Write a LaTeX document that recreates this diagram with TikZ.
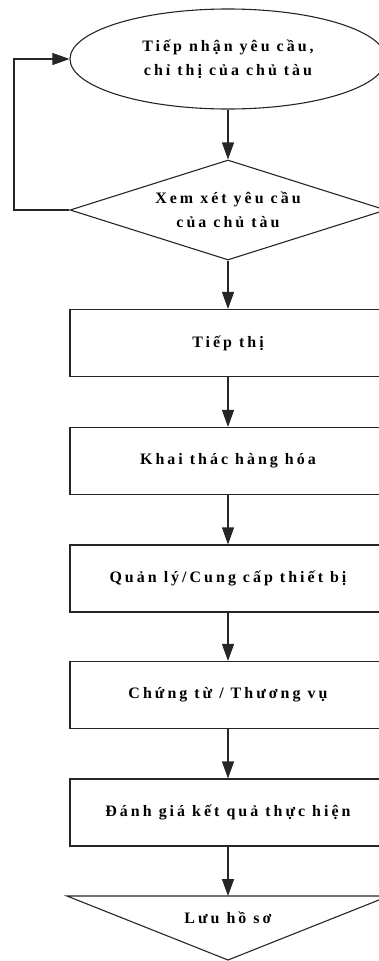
\documentclass[tikz,border=0pt]{standalone}
\usepackage{fontspec}
\setmainfont{Liberation Serif}[LetterSpace=19]
\usetikzlibrary{shapes.geometric,arrows.meta}
\begin{document}
\begin{tikzpicture}[x=1bp,y=-1bp,
  every node/.style={font=\fontsize{16}{24}\selectfont\bfseries, align=center, inner sep=0pt},
  line/.style={draw=black!85, line width=1.1bp},
  arr/.style={line, -{Triangle[length=17bp,width=12bp]}},
  boxnode/.style={line, rectangle, minimum width=316bp, minimum height=67bp},
]
\useasboundingbox (0,0) rectangle (378,961);
\node[line, ellipse, minimum width=316bp, minimum height=100bp] (start) at (228,59) {Tiếp nhận yêu cầu,\\chỉ thị của chủ tàu};
\node[line, diamond, aspect=3.16, minimum width=316bp, minimum height=100bp] (check) at (228,210) {Xem xét yêu cầu\\của chủ tàu};
\node[boxnode] (b1) at (228,343) {Tiếp thị};
\node[boxnode] (b2) at (228,461) {Khai thác hàng hóa};
\node[boxnode] (b3) at (228,578.5) {Quản lý/Cung cấp thiết bị};
\node[boxnode] (b4) at (228,695) {Chứng từ / Thương vụ};
\node[boxnode] (b5) at (228,812.5) {Đánh giá kết quả thực hiện};
\coordinate (tritop) at (228,896);
\draw[line] (67,896) -- (389,896) -- (228,960) -- cycle;
\node (store) at (228,918) {Lưu hồ sơ};
\coordinate (loop) at (14,0);
\draw[arr] (start.south) -- (check.north);
\draw[arr] (check.west) -- (check.west -| loop) -- (start.west -| loop) -- (start.west);
\draw[arr] (check.south) -- (b1.north);
\draw[arr] (b1.south) -- (b2.north);
\draw[arr] (b2.south) -- (b3.north);
\draw[arr] (b3.south) -- (b4.north);
\draw[arr] (b4.south) -- (b5.north);
\draw[arr] (b5.south) -- (tritop);
\end{tikzpicture}
\end{document}
